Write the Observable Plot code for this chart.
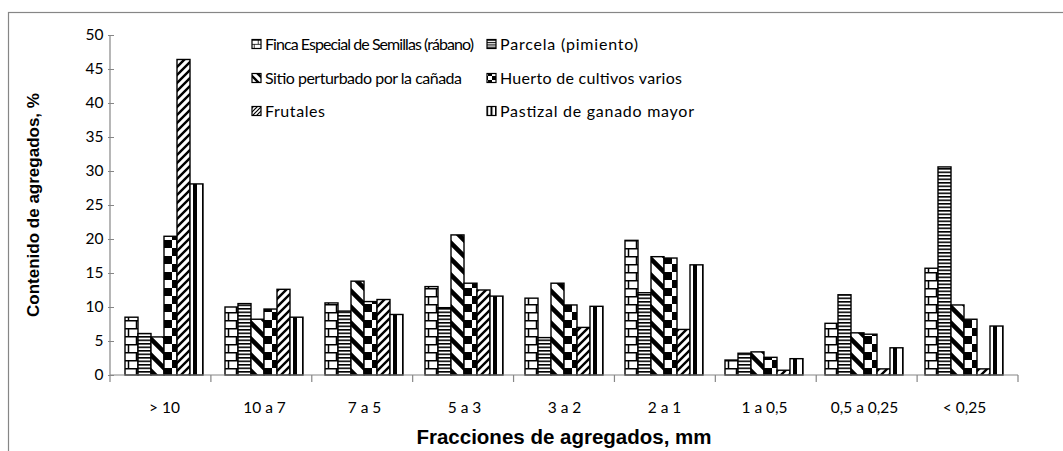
<!DOCTYPE html>
<html><head><meta charset="utf-8">
<script src="https://cdn.jsdelivr.net/npm/d3@7"></script>
<script src="https://cdn.jsdelivr.net/npm/@observablehq/plot@0.6"></script>
<style>
body{margin:0;background:#fff}
#chart{width:1063px;height:451px;overflow:hidden;position:relative}
</style>
</head><body><div id="chart"></div>
<script>
const categories = ["> 10","10 a 7","7 a 5","5 a 3","3 a 2","2 a 1","1 a 0,5","0,5 a 0,25","< 0,25"];
const seriesNames = ["Finca Especial de Semillas (rábano)","Parcela (pimiento)","Sitio perturbado por la cañada","Huerto de cultivos varios","Frutales","Pastizal de ganado mayor"];
const finca    = [8.5, 10.0, 10.6, 13.0, 11.3, 19.8, 2.2, 7.6, 15.7];
const parcela  = [6.1, 10.5,  9.4,  9.9,  5.5, 12.1, 3.2, 11.8, 30.6];
const sitio    = [5.6,  8.2, 13.8, 20.6, 13.5, 17.4, 3.4, 6.2, 10.3];
const huerto   = [20.4, 9.7, 10.8, 13.5, 10.3, 17.2, 2.6, 6.0, 8.2];
const frutales = [46.4, 12.6, 11.1, 12.5, 7.0, 6.7, 0.7, 0.9, 0.9];
const pastizal = [28.1, 8.5, 8.9, 11.6, 10.1, 16.2, 2.4, 4.0, 7.2];
const yTicks = [0,5,10,15,20,25,30,35,40,45,50];
const xTitle = "Fracciones de agregados, mm";
const yTitle = "Contenido de agregados, %";

const allSeries = [finca, parcela, sitio, huerto, frutales, pastizal];
const patternIds = ["pBrick","pHoriz","pDown","pCheck","pUp","pVert"];
const rows = [];
seriesNames.forEach((s, si) => categories.forEach((c, ci) => rows.push({cat: c, series: s, value: allSeries[si][ci], fill: `url(#${patternIds[si]})`})));

const W = 1063, H = 451;
const plot = Plot.plot({
  width: W, height: H,
  marginLeft: 110, marginRight: 45, marginTop: 35, marginBottom: 76,
  style: {fontFamily: "Lato, 'Open Sans', sans-serif", fontSize: "15.5px", color: "#000", background: "#fff"},
  fx: {domain: categories, padding: 0, axis: "bottom", label: null, tickSize: 0, tickPadding: 26},
  x: {domain: seriesNames, axis: null, paddingInner: 0, paddingOuter: 0.69},
  y: {domain: [0, 50], ticks: yTicks, tickSize: 6, tickPadding: 5, label: null},
  color: {type: "identity"},
  marks: [
    Plot.barY(rows, {fx: "cat", x: "series", y: "value", fill: "fill", stroke: "#000", strokeWidth: 1.4})
  ]
});
document.getElementById("chart").appendChild(plot);

const svg = d3.select(plot);
const defs = svg.insert("defs", ":first-child");
const patSrc = {
  pBrick: {w:16,h:16, body:'<rect width="16" height="16" fill="#fff"/><path d="M0,0.75H16M0,8.75H16M4.5,0V8.5M12.5,8.5V16" stroke="#000" stroke-width="1.5" fill="none"/>'},
  pHoriz: {w:4,h:3.5, body:'<rect width="4" height="3.5" fill="#fff"/><rect y="0" width="4" height="1.6" fill="#000"/>'},
  pDown:  {w:16,h:16, body:'<rect width="16" height="16" fill="#fff"/><path d="M-2,-2L18,18M-2,14L2,18M14,-2L18,2" stroke="#000" stroke-width="4.6" fill="none"/>'},
  pCheck: {w:16,h:16, body:'<rect width="16" height="16" fill="#fff"/><rect width="8" height="8" fill="#000"/><rect x="8" y="8" width="8" height="8" fill="#000"/>'},
  pUp:    {w:8,h:8, body:'<rect width="8" height="8" fill="#fff"/><path d="M-1,9L9,-1M-1,1L1,-1M7,9L9,7" stroke="#000" stroke-width="2.4" fill="none"/>'},
  pVert:  {w:9,h:9, body:'<rect width="9" height="9" fill="#fff"/><rect x="0" width="4" height="9" fill="#000"/>'}
};
let defsHtml = "";
for (const [id, p] of Object.entries(patSrc)) {
  defsHtml += `<pattern id="${id}" patternUnits="userSpaceOnUse" width="${p.w}" height="${p.h}">${p.body}</pattern>`;
  defsHtml += `<pattern id="${id}S" patternUnits="userSpaceOnUse" width="${p.w}" height="${p.h}" patternTransform="scale(0.5)">${p.body}</pattern>`;
}
defs.html(defsHtml);

// scales
const fxS = plot.scale("fx"), yS = plot.scale("y");
const band = d3.scaleBand().domain(fxS.domain).range(fxS.range).paddingInner(0).paddingOuter(0);
const y = d3.scaleLinear().domain(yS.domain).range(yS.range);
const x0 = fxS.range[0], x1 = fxS.range[1];
const gray = "#868686";
svg.selectAll("g[aria-label='y-axis tick'] path, g[aria-label='y-axis tick']").attr("stroke", gray);
const deco = svg.append("g");
// frame border
deco.append("rect").attr("x", 8.5).attr("y", 12.5).attr("width", 1200).attr("height", 600)
  .attr("fill", "none").attr("stroke", gray).attr("stroke-width", 1.2);
// axis lines
deco.append("line").attr("x1", x0).attr("x2", x0).attr("y1", y(50)).attr("y2", y(0)).attr("stroke", gray).attr("stroke-width", 1.2);
deco.append("line").attr("x1", x0).attr("x2", x1).attr("y1", y(0)).attr("y2", y(0)).attr("stroke", gray).attr("stroke-width", 1.2);
const bounds = categories.map(c => band(c)).concat([band(categories[categories.length-1]) + band.bandwidth()]);
deco.selectAll(".bt").data(bounds).join("line").attr("x1", d => d).attr("x2", d => d)
  .attr("y1", y(0)).attr("y2", y(0) + 7).attr("stroke", gray).attr("stroke-width", 1.2);

// titles
deco.append("text").attr("x", (x0 + x1) / 2).attr("y", 437).attr("dy", "0.35em").attr("text-anchor", "middle")
  .attr("font-family", "'Liberation Sans', Arial, sans-serif").attr("font-weight", "bold").attr("font-size", 20.5).text(xTitle);
deco.append("text").attr("transform", `translate(33,${(y(0)+y(50))/2}) rotate(-90)`).attr("dy", "0.35em").attr("text-anchor", "middle")
  .attr("font-family", "'Liberation Sans', Arial, sans-serif").attr("font-weight", "bold").attr("font-size", 17).text(yTitle);

// legend
const legX = [252, 487], legY = [44, 78, 111];
const legLen = [209, 138, 197, 182, 60, 194];
const leg = deco.append("g").attr("font-family", "Lato, 'Open Sans', sans-serif").attr("font-size", 16).attr("text-anchor", "start");
seriesNames.forEach((s, i) => {
  const cx = legX[i % 2], cy = legY[Math.floor(i / 2)];
  leg.append("rect").attr("x", cx).attr("y", cy - 4.5).attr("width", 9).attr("height", 9)
    .attr("fill", `url(#${patternIds[i]}S)`).attr("stroke", "#000").attr("stroke-width", 1.2);
  leg.append("text").attr("x", cx + 13).attr("y", cy).attr("dy", "0.35em").attr("text-anchor", "start")
    .attr("textLength", legLen[i]).attr("lengthAdjust", "spacing").text(s);
});
</script>
</body></html>
